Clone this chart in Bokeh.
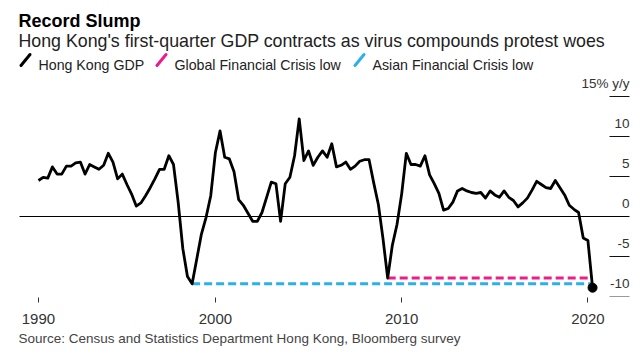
import numpy as np
from bokeh.plotting import figure
from bokeh.models import Range1d, FixedTicker, Title
from bokeh.core.properties import value
from bokeh.embed import file_html
from bokeh.resources import INLINE

# ---------------- data ----------------
first_quarter_end = 1990.5          # series starts 1990 Q2 (plotted at quarter end)
gdp = [
    4.5, 4.9, 4.8, 6.2, 5.3, 5.3, 6.3, 6.3, 6.7, 6.8,
    5.3, 6.5, 6.2, 5.9, 6.4, 7.9, 6.8, 4.7, 5.3, 4.0,
    2.8, 1.3, 1.7, 2.6, 3.6, 4.7, 5.9, 5.9, 7.6, 6.5,
    1.8, -4.0, -7.5, -8.4, -5.3, -2.2, -0.1, 2.6, 8.0, 10.7,
    7.4, 7.2, 5.6, 2.1, 1.4, 0.4, -0.6, -0.6, 0.5, 2.4,
    4.3, 4.1, -0.6, 4.1, 4.9, 7.6, 12.2, 7.0, 8.2, 6.4,
    7.4, 8.2, 7.4, 9.1, 6.2, 6.4, 6.8, 5.9, 6.3, 6.9,
    7.1, 7.1, 4.2, 1.5, -2.8, -7.7, -3.6, -1.0, 2.8, 7.9,
    6.5, 6.5, 6.3, 7.6, 5.2, 4.1, 2.9, 0.8, 1.0, 1.8,
    3.2, 3.5, 3.2, 3.0, 2.9, 3.0, 2.3, 3.2, 2.7, 2.4,
    3.2, 2.4, 2.0, 1.2, 1.7, 2.3, 3.3, 4.4, 4.0, 3.6,
    3.5, 4.5, 3.6, 2.7, 1.4, 0.9, 0.5, -2.7, -3.0, -8.9,
]
asian_crisis_window = (1997.0, 2000.0)
global_crisis_window = (2008.0, 2010.5)
xtick_years = [1990, 2000, 2010, 2020]
xtick_labels = ["1990", "2000", "2010", "2020"]
ytick_values = [-10, -5, 0, 5, 10, 15]
ytick_labels = ["-10", "-5", "0", "5", "10", "15% y/y"]

title = "Record Slump"
subtitle = "Hong Kong's first-quarter GDP contracts as virus compounds protest woes"
legend_labels = ["Hong Kong GDP", "Global Financial Crisis low", "Asian Financial Crisis low"]
source = "Source:  Census and Statistics Department Hong Kong, Bloomberg survey"

BLACK = "#000000"
PINK = "#ec1c8c"
BLUE = "#2bb0ea"
FONT = value("Liberation Sans")

# ---------------- geometry ----------------
W, H = 643, 354
FRAME_BOTTOM = 297
PX_PER_YEAR = 18.625
X2000_PX = 214.9
ZERO_PX = 216.0
PX_PER_UNIT = 8.0

def X(px):
    return 2000 + (px - X2000_PX) / PX_PER_YEAR

def Y(py):
    return (ZERO_PX - py) / PX_PER_UNIT

x = np.array([first_quarter_end + 0.25 * i for i in range(len(gdp))])
y = np.array(gdp)

p = figure(width=W, height=H, x_range=Range1d(X(0), X(W)),
           y_range=Range1d(Y(FRAME_BOTTOM), Y(0)),
           output_backend="svg", toolbar_location=None,
           y_axis_location=None, min_border_left=0, min_border_right=0,
           min_border_top=0, min_border_bottom=H - FRAME_BOTTOM,
           outline_line_color=None, background_fill_color="white",
           border_fill_color="white")
p.grid.visible = False

# x axis
tick_pos = [max(float(t), float(x[0])) for t in xtick_years]
p.xaxis.ticker = FixedTicker(ticks=tick_pos)
p.xaxis.major_label_overrides = {tp: lab for tp, lab in zip(tick_pos, xtick_labels)}
p.xaxis.axis_line_color = None
p.xaxis.minor_tick_line_color = None
p.xaxis.major_tick_in = 0
p.xaxis.major_tick_out = 5
p.xaxis.major_tick_line_color = "#333333"
p.xaxis.major_label_standoff = 11
p.xaxis.major_label_text_font = "Liberation Sans"
p.xaxis.major_label_text_font_size = "15px"
p.xaxis.major_label_text_color = "#333333"

# source line under the axis
p.add_layout(Title(text=source, align="left", offset=18, standoff=4,
                   text_font="Liberation Sans", text_font_size="13.5px",
                   text_font_style="normal", text_color="#444444"), "below")

# y tick stubs, zero line and labels on the right
stub_x0 = X(609)
stub_x1 = X(629)
for v in ytick_values:
    if v == 0:
        p.segment(x0=[X(19)], y0=[0], x1=[stub_x1], y1=[0], line_color=BLACK, line_width=1)
    else:
        col = "#9a9a9a" if v == min(ytick_values) else "#111111"
        p.segment(x0=[stub_x0], y0=[v], x1=[stub_x1], y1=[v], line_color=col, line_width=1)
p.text(x=[X(629)] * len(ytick_values), y=[v + 13 / PX_PER_UNIT for v in ytick_values],
       text=ytick_labels, text_align="right", text_baseline="middle",
       text_font=FONT, text_font_size=value("13.5px"), text_color="#333333")

# crisis lows
def low_in(window):
    m = (x >= window[0]) & (x < window[1])
    i = np.argmin(np.where(m, y, np.inf))
    return x[i], y[i]

ax, ay = low_in(asian_crisis_window)
gx, gy = low_in(global_crisis_window)
p.line([ax, x[-1]], [ay, ay], line_color=BLUE, line_width=3, line_dash="8 4")
p.line([gx, x[-1]], [gy, gy], line_color=PINK, line_width=3, line_dash="8 4")

# main series
p.line(x, y, line_color=BLACK, line_width=2.8, line_join="round")
p.scatter([x[-1]], [y[-1]], size=9, fill_color=BLACK, line_color=BLACK)

# header
p.text(x=[X(18)], y=[Y(20)], text=[title], text_font=FONT, text_font_size=value("18px"),
       text_font_style="bold", text_color=BLACK, text_baseline="alphabetic")
p.text(x=[X(18)], y=[Y(40)], text=[subtitle], text_font=FONT, text_font_size=value("17.8px"),
       text_color="#222222", text_baseline="alphabetic")

slash_left = [19, 155, 353]
text_left = [38, 174, 372]
for sl, tl, lab, col in zip(slash_left, text_left, legend_labels, [BLACK, PINK, BLUE]):
    p.segment(x0=[X(sl + 1.5)], y0=[Y(65)], x1=[X(sl + 10.5)], y1=[Y(54)],
              line_color=col, line_width=3, line_cap="round")
    p.text(x=[X(tl)], y=[Y(64)], text=[lab], text_font=FONT, text_font_size=value("14.2px"),
           text_color="#222222", text_baseline="alphabetic")

open("out.html", "w").write(file_html(p, INLINE))
